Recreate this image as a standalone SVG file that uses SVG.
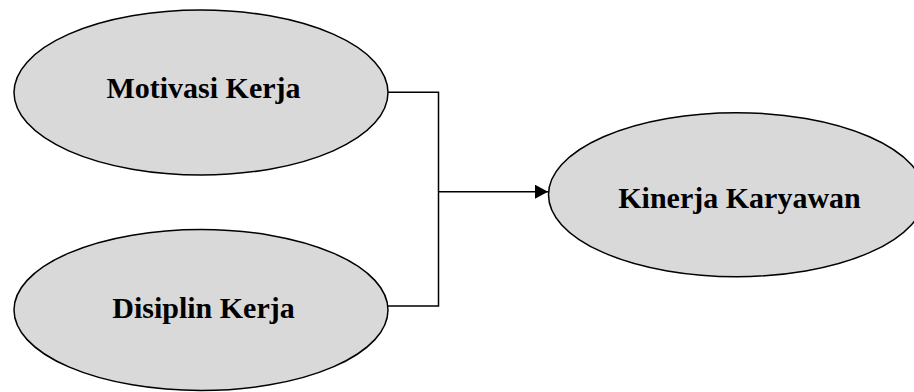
<svg xmlns="http://www.w3.org/2000/svg" width="914" height="392" viewBox="0 0 914 392">
  <style>
    .node ellipse { fill: #d9d9d9; stroke: #000; stroke-width: 1.5; }
    .node text { font-family: "Liberation Serif", "Times New Roman", serif; font-weight: bold; font-size: 30px; fill: #000; text-anchor: middle; }
    .conn { fill: none; stroke: #000; stroke-width: 1.5; }
  </style>
  <defs>
    <marker id="arrow" markerUnits="userSpaceOnUse" markerWidth="14" markerHeight="14" refX="13" refY="7" orient="auto">
      <path d="M0,0 L13,7 L0,14 Z" fill="#000"/>
    </marker>
  </defs>
  <rect width="914" height="392" fill="#fff"/>
  <g id="connectors">
    <polyline class="conn" points="387,92.3 438.5,92.3 438.5,306 387,306"/>
    <line class="conn" x1="438.5" y1="191.7" x2="548" y2="191.7" marker-end="url(#arrow)"/>
  </g>
  <g id="motivasi" class="node">
    <ellipse cx="201" cy="92.5" rx="187" ry="82.5"/>
    <text x="203.5" y="98">Motivasi Kerja</text>
  </g>
  <g id="disiplin" class="node">
    <ellipse cx="201" cy="310" rx="187" ry="80.5"/>
    <text x="203.5" y="318">Disiplin Kerja</text>
  </g>
  <g id="kinerja" class="node">
    <ellipse cx="736.5" cy="194.7" rx="188" ry="82"/>
    <text x="739.5" y="208">Kinerja Karyawan</text>
  </g>
</svg>
